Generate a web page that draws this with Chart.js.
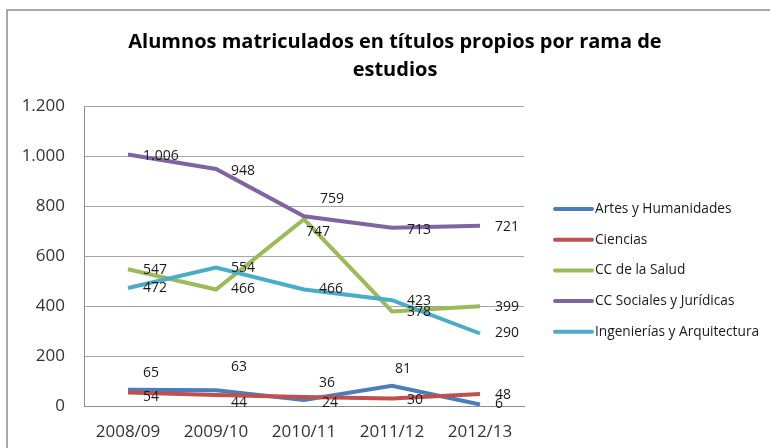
<!DOCTYPE html>
<html>
<head>
<meta charset="utf-8">
<script src="https://cdn.jsdelivr.net/npm/chart.js@4.4.1/dist/chart.umd.min.js"></script>
<style>
html,body{margin:0;padding:0;background:#fff;}
#wrap{width:770px;height:448px;position:relative;}
</style>
</head>
<body>
<div id="wrap"><canvas id="c" width="770" height="448"></canvas></div>
<script>
// ---- data ----
const categories = ['2008/09', '2009/10', '2010/11', '2011/12', '2012/13'];
const artes = [65, 63, 24, 81, 6];
const ciencias = [54, 44, 36, 30, 48];
const salud = [547, 466, 747, 378, 399];
const sociales = [1006, 948, 759, 713, 721];
const ingenierias = [472, 554, 466, 423, 290];
const seriesNames = ['Artes y Humanidades', 'Ciencias', 'CC de la Salud', 'CC Sociales y Jurídicas', 'Ingenierías y Arquitectura'];
const yTickValues = [0, 200, 400, 600, 800, 1000, 1200];
const titleLines = ['Alumnos matriculados en títulos propios por rama de', 'estudios'];

// ---- style ----
const colors = ['#4A7EBB', '#C0504D', '#9BBB59', '#8064A2', '#4BACC6'];
// label offsets (dx from point to label left edge, dy from point to label centre), px
const labelOffsets = [
  [[15,-17],[15,-23],[18,3],[3,-17],[15,0]],
  [[15,5],[15,8],[15,-14],[15,2],[15,1]],
  [[15,1],[15,0],[2,13],[15,1],[15,1]],
  [[15,2],[15,2],[16,-17],[15,2],[15,1]],
  [[15,0],[15,1],[15,0],[15,1],[15,0]]
];

function fmt(v) {
  return String(v).replace(/\B(?=(\d{3})+(?!\d))/g, '.');
}

Chart.defaults.font.family = "'Open Sans', sans-serif";

const allSeries = [artes, ciencias, salud, sociales, ingenierias];
const datasets = allSeries.map((d, i) => ({
  label: seriesNames[i],
  data: d,
  borderColor: colors[i],
  backgroundColor: colors[i],
  borderWidth: 4,
  pointRadius: 0,
  tension: 0,
  fill: false,
  order: allSeries.length - i
}));

const deco = {
  id: 'deco',
  beforeDraw(chart) {
    const ctx = chart.ctx;
    ctx.save();
    ctx.fillStyle = '#fff';
    ctx.fillRect(0, 0, chart.width, chart.height);
    ctx.strokeStyle = '#8c8c8c';
    ctx.lineWidth = 1.5;
    ctx.beginPath();
    ctx.moveTo(7, chart.height);
    ctx.lineTo(7, 10);
    ctx.lineTo(chart.width, 10);
    ctx.stroke();
    ctx.restore();
  },
  afterDatasetsDraw(chart) {
    const ctx = chart.ctx;
    ctx.save();
    ctx.font = "14px 'Open Sans', sans-serif";
    ctx.fillStyle = '#1a1a1a';
    ctx.textAlign = 'left';
    ctx.textBaseline = 'middle';
    chart.data.datasets.forEach((ds, i) => {
      const meta = chart.getDatasetMeta(i);
      meta.data.forEach((pt, j) => {
        const off = labelOffsets[i][j];
        ctx.fillText(fmt(ds.data[j]), pt.x + off[0], pt.y + off[1]);
      });
    });
    ctx.restore();
  },
  afterDraw(chart) {
    const ctx = chart.ctx;
    ctx.save();
    // title
    ctx.font = "bold 20px 'Open Sans', sans-serif";
    ctx.fillStyle = '#000';
    ctx.textAlign = 'center';
    ctx.textBaseline = 'middle';
    ctx.fillText(titleLines[0], 395, 42);
    ctx.fillText(titleLines[1], 395, 70);
    // legend
    ctx.font = "13.7px 'Open Sans', sans-serif";
    ctx.textAlign = 'left';
    ctx.fillStyle = '#1a1a1a';
    chart.data.datasets.forEach((ds, i) => {
      const y = 209 + i * 30.7;
      ctx.strokeStyle = ds.borderColor;
      ctx.lineWidth = 4;
      ctx.lineCap = 'round';
      ctx.beginPath();
      ctx.moveTo(555, y);
      ctx.lineTo(592, y);
      ctx.stroke();
      ctx.fillText(ds.label, 595, y);
    });
    ctx.restore();
  }
};

new Chart(document.getElementById('c'), {
  type: 'line',
  data: { labels: categories, datasets: datasets },
  options: {
    responsive: false,
    animation: false,
    layout: { padding: { top: 106, right: 246, left: 0, bottom: 0 } },
    plugins: { legend: { display: false }, title: { display: false }, tooltip: { enabled: false } },
    scales: {
      x: {
        offset: true,
        grid: { display: false, drawTicks: false },
        border: { display: true, color: '#8c8c8c', width: 1 },
        ticks: { color: '#333', font: { size: 17 }, padding: 16, maxRotation: 0 },
        afterFit(s) { s.height = 42; }
      },
      y: {
        min: 0,
        max: 1200,
        afterBuildTicks(s) { s.ticks = yTickValues.map(v => ({ value: v })); },
        grid: { color: '#a6a6a6', lineWidth: 1, drawTicks: false },
        border: { display: true, color: '#8c8c8c', width: 1 },
        ticks: { color: '#333', font: { size: 17 }, padding: 19, callback: v => fmt(v) },
        afterFit(s) { s.width = 84; }
      }
    }
  },
  plugins: [deco]
});
</script>
</body>
</html>
